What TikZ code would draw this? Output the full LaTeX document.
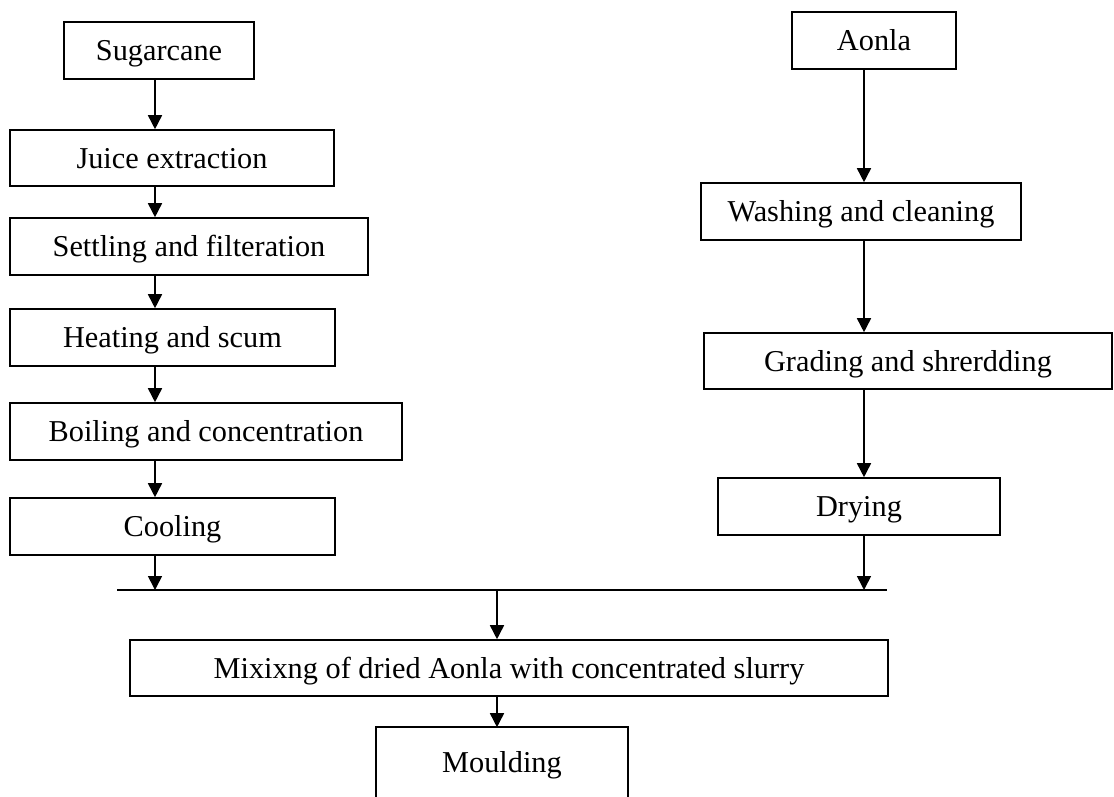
\documentclass[tikz,border=0pt]{standalone}
\usepackage{fontspec}
\setmainfont{Liberation Serif}
\usetikzlibrary{arrows.meta}
\begin{document}
\begin{tikzpicture}[x=1pt,y=-1pt,
  box/.style={draw, line width=1.6pt, rectangle, inner sep=0pt, align=center,
    text height=20pt, text depth=0pt,
    font=\fontsize{30.3}{35}\selectfont},
  arr/.style={line width=1.6pt, -{Triangle[length=14pt,width=14pt]}},
  ln/.style={line width=1.6pt}]
\clip (0,0) rectangle (1114,796);
\fill[white] (0,0) rectangle (1114,796);
% left column
\node[box, minimum width=190pt, minimum height=57pt] (sug) at (159,50.5) {Sugarcane};
\node[box, minimum width=324pt, minimum height=56pt] (juice) at (172,158) {Juice extraction};
\node[box, minimum width=358pt, minimum height=57pt] (settle) at (189,246.5) {Settling and filteration};
\node[box, minimum width=325pt, minimum height=57pt] (heat) at (172.5,337.5) {Heating and scum};
\node[box, minimum width=392pt, minimum height=57pt] (boil) at (206,431.5) {Boiling and concentration};
\node[box, minimum width=325pt, minimum height=57pt] (cool) at (172.5,526.5) {Cooling};
% right column
\node[box, minimum width=164pt, minimum height=57pt] (aonla) at (874,40.5) {Aonla};
\node[box, minimum width=320pt, minimum height=57pt] (wash) at (861,211.5) {Washing and cleaning};
\node[box, minimum width=408pt, minimum height=56pt] (grade) at (908,361) {Grading and shrerdding};
\node[box, minimum width=282pt, minimum height=57pt] (dry) at (859,506.5) {Drying};
% bottom
\node[box, minimum width=758pt, minimum height=56pt] (mix) at (509,668) {Mixixng of dried Aonla with concentrated slurry};
\node[box, draw=none, minimum width=250pt, minimum height=68pt] (mould) at (502,762) {Moulding};
\draw[ln] ([yshift=-20pt]mould.south west) |- (mould.north east) -- ++(0,90);
% helper coordinates
\coordinate (a) at (155,0);
\coordinate (b) at (864,0);
\coordinate (c) at (497,0);
\coordinate (jl) at (117,590);
\coordinate (jr) at (887,590);
\draw[ln] (jl) -- (jr);
% left arrows
\draw[arr] (sug.south -| a) -- (juice.north -| a);
\draw[arr] (juice.south -| a) -- (settle.north -| a);
\draw[arr] (settle.south -| a) -- (heat.north -| a);
\draw[arr] (heat.south -| a) -- (boil.north -| a);
\draw[arr] (boil.south -| a) -- (cool.north -| a);
\draw[arr] (cool.south -| a) -- (a |- jl);
% right arrows
\draw[arr] (aonla.south -| b) -- (wash.north -| b);
\draw[arr] (wash.south -| b) -- (grade.north -| b);
\draw[arr] (grade.south -| b) -- (dry.north -| b);
\draw[arr] (dry.south -| b) -- (b |- jl);
% bottom arrows
\draw[arr] (c |- jl) -- (mix.north -| c);
\draw[arr] (mix.south -| c) -- (mould.north -| c);
\end{tikzpicture}
\end{document}
